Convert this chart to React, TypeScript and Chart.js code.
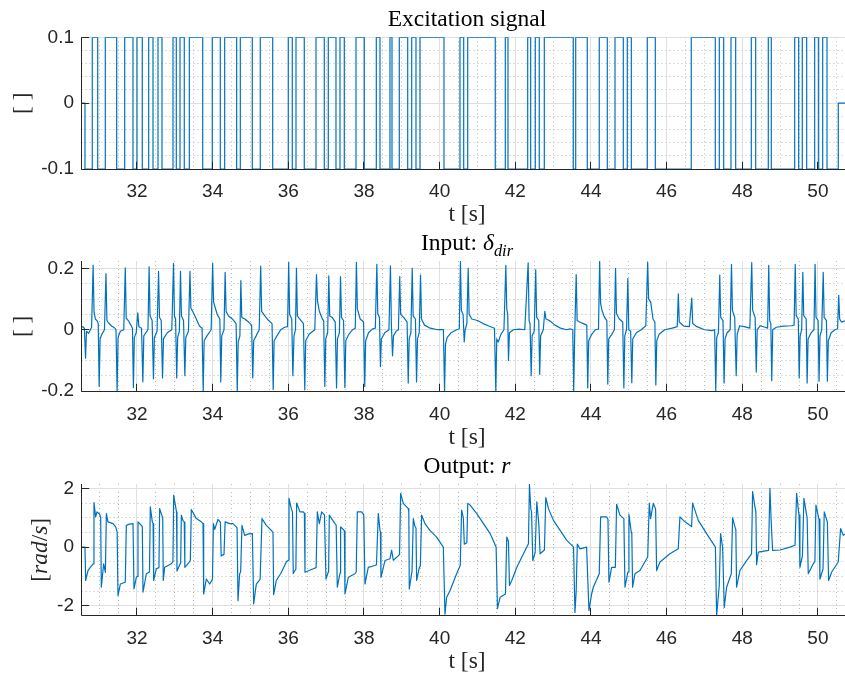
import { useEffect, useRef } from "react";
import { Chart, registerables } from "chart.js";

Chart.register(...registerables);

const PAGE_W = 845;
const PAGE_H = 673;
const CANVAS_W = 860;
const PLOT_LEFT = 81.5;
const PLOT_RIGHT = 852.5;

const LINE_BLUE = "#0072BD";
const AXIS_COLOR = "#262626";
const MAJOR_GRID = "#dfdfdf";
const MINOR_GRID = "#b9b9b9";
const SERIF = '"Liberation Serif", "DejaVu Serif", serif';
const SANS = '"Liberation Sans", Arial, sans-serif';

// shared time axis
const TIME_MIN = 30.533;
const TIME_MAX = 50.914;
const timeTicks = [32, 34, 36, 38, 40, 42, 44, 46, 48, 50];
const timeTickLabels = ["32", "34", "36", "38", "40", "42", "44", "46", "48", "50"];
const TIME_MINOR_STEP = 0.5;

// excitation: switching instants and the level held from each instant on
const switchTimes = [
  30.533, 30.625,
  30.818, 30.961, 31.162, 31.463, 31.675, 31.894, 32.0, 32.14,
  32.309, 32.423, 32.555, 32.661, 32.952, 33.039, 33.137, 33.25,
  33.383, 33.737, 33.99, 34.202, 34.318, 34.635, 34.731, 35.048,
  35.259, 35.587, 35.999, 36.105, 36.203, 36.422, 36.732, 36.951,
  37.057, 37.26, 37.366, 37.48, 37.789, 38.008, 38.326, 38.423,
  38.688, 38.741, 38.934, 39.156, 39.262, 39.375, 39.481, 40.115,
  40.538, 40.636, 40.742, 41.471, 41.736, 41.807, 42.328, 42.407,
  42.529, 42.634, 42.767, 43.533, 43.597, 43.903, 44.22, 44.432,
  44.636, 44.855, 44.961, 45.067, 45.489, 45.701, 46.652, 47.287,
  47.393, 47.509, 47.702, 47.826, 48.239, 48.355, 48.688, 48.767,
  49.386, 49.491, 49.587, 49.703, 49.914, 50.02, 50.126, 50.24,
  50.538, 50.914,
];
const switchLevels = [
  0, -0.1,
  0.1, -0.1, 0.1, -0.1, 0.1, -0.1, 0.1, -0.1,
  0.1, -0.1, 0.1, -0.1, 0.1, -0.1, 0.1, -0.1,
  0.1, -0.1, 0.1, -0.1, 0.1, -0.1, 0.1, -0.1,
  0.1, -0.1, 0.1, -0.1, 0.1, -0.1, 0.1, -0.1,
  0.1, -0.1, 0.1, -0.1, 0.1, -0.1, 0.1, -0.1,
  0.1, -0.1, 0.1, -0.1, 0.1, -0.1, 0.1, -0.1,
  0.1, -0.1, 0.1, -0.1, 0.1, -0.1, 0.1, -0.1,
  0.1, -0.1, 0.1, -0.1, 0.1, -0.1, 0.1, -0.1,
  0.1, -0.1, 0.1, -0.1, 0.1, -0.1, 0.1, -0.1,
  0.1, -0.1, 0.1, -0.1, 0.1, -0.1, 0.1, -0.1,
  0.1, -0.1, 0.1, -0.1, 0.1, -0.1, 0.1, -0.1,
  0, 0,
];
const excitationTicks = [-0.1, 0, 0.1];
const excitationTickLabels = ["-0.1", "0", "0.1"];

// input δ_dir samples [t, value]
const inputSamples: [number, number][] = [
  [30.533, 0.008], [30.57, 0.01], [30.61, 0.004], [30.64, -0.093], [30.665, -0.005], [30.72, -0.012],
  [30.8, 0.008], [30.84, 0.211], [30.865, 0.057], [30.9, 0.035], [30.95, 0.028], [30.975, 0.02],
  [31.0, -0.185], [31.025, -0.03], [31.07, -0.015], [31.14, 0.0], [31.18, 0.183], [31.205, 0.03],
  [31.25, 0.022], [31.33, 0.012], [31.42, 0.005], [31.445, 0.0], [31.475, -0.2], [31.5, -0.025],
  [31.56, -0.005], [31.65, 0.0], [31.69, 0.202], [31.715, 0.038], [31.77, 0.03], [31.86, 0.01],
  [31.88, 0.005], [31.905, -0.188], [31.93, -0.025], [31.98, -0.01], [32.02, 0.055], [32.05, 0.01],
  [32.12, 0.005], [32.155, -0.17], [32.18, -0.02], [32.26, -0.005], [32.29, 0.0], [32.32, 0.205],
  [32.345, 0.045], [32.4, 0.03], [32.435, -0.16], [32.46, -0.025], [32.53, -0.005], [32.57, 0.19],
  [32.595, 0.04], [32.64, 0.03], [32.675, -0.157], [32.7, -0.03], [32.8, -0.01], [32.92, 0.0],
  [32.965, 0.216], [32.99, 0.045], [33.02, 0.035], [33.05, -0.157], [33.075, -0.025], [33.12, -0.005],
  [33.15, 0.19], [33.175, 0.045], [33.23, 0.03], [33.265, -0.15], [33.29, -0.025], [33.36, -0.005],
  [33.4, 0.19], [33.425, 0.07], [33.47, 0.06], [33.55, 0.04], [33.65, 0.012], [33.72, 0.005],
  [33.75, -0.2], [33.775, -0.036], [33.85, -0.02], [33.96, 0.0], [34.0, 0.216], [34.025, 0.09],
  [34.06, 0.075], [34.12, 0.05], [34.19, 0.035], [34.215, -0.17], [34.24, -0.02], [34.3, 0.0],
  [34.33, 0.187], [34.355, 0.06], [34.42, 0.045], [34.52, 0.035], [34.62, 0.02], [34.65, -0.2],
  [34.675, -0.04], [34.72, -0.02], [34.745, 0.16], [34.77, 0.04], [34.85, 0.035], [34.95, 0.025],
  [35.03, 0.015], [35.06, -0.157], [35.085, -0.035], [35.15, -0.02], [35.23, 0.0], [35.27, 0.207],
  [35.295, 0.06], [35.38, 0.045], [35.48, 0.03], [35.57, 0.02], [35.6, -0.195], [35.625, -0.036],
  [35.7, -0.02], [35.8, 0.0], [35.9, 0.008], [35.98, 0.01], [36.01, 0.22], [36.035, 0.05],
  [36.09, 0.035], [36.12, -0.15], [36.15, -0.02], [36.19, 0.0], [36.215, 0.2], [36.24, 0.045],
  [36.3, 0.035], [36.4, 0.02], [36.435, -0.196], [36.46, -0.036], [36.55, -0.015], [36.7, 0.0],
  [36.745, 0.18], [36.77, 0.095], [36.82, 0.06], [36.9, 0.035], [36.935, 0.03], [36.965, -0.185],
  [36.99, -0.03], [37.04, -0.01], [37.07, 0.176], [37.095, 0.045], [37.16, 0.04], [37.24, 0.025],
  [37.275, -0.19], [37.3, -0.03], [37.35, -0.01], [37.38, 0.173], [37.405, 0.04], [37.46, 0.03],
  [37.495, -0.188], [37.52, -0.035], [37.6, -0.015], [37.7, 0.0], [37.77, 0.005], [37.8, 0.22],
  [37.825, 0.068], [37.9, 0.035], [37.99, 0.025], [38.02, -0.185], [38.045, -0.036], [38.12, -0.01],
  [38.22, 0.002], [38.3, 0.005], [38.34, 0.213], [38.365, 0.052], [38.41, 0.04], [38.435, -0.12],
  [38.46, -0.03], [38.55, -0.01], [38.66, 0.0], [38.7, 0.208], [38.725, 0.015], [38.755, -0.085],
  [38.78, -0.02], [38.85, -0.005], [38.91, 0.0], [38.945, 0.173], [38.97, 0.05], [39.05, 0.04],
  [39.14, 0.025], [39.17, -0.174], [39.195, -0.03], [39.24, -0.01], [39.275, 0.2], [39.3, 0.045],
  [39.36, 0.035], [39.39, -0.17], [39.415, -0.03], [39.46, -0.01], [39.495, 0.178], [39.52, 0.035],
  [39.6, 0.015], [39.75, 0.005], [39.95, 0.0], [40.1, 0.0], [40.13, -0.2], [40.155, -0.048],
  [40.2, -0.025], [40.3, -0.01], [40.45, 0.0], [40.52, 0.003], [40.55, 0.222], [40.575, 0.063],
  [40.62, 0.05], [40.65, -0.04], [40.675, 0.0], [40.72, 0.02], [40.755, 0.2], [40.78, 0.05],
  [40.85, 0.035], [41.0, 0.03], [41.15, 0.02], [41.3, 0.012], [41.45, 0.005], [41.485, -0.2],
  [41.51, -0.03], [41.55, -0.04], [41.62, -0.015], [41.7, 0.0], [41.75, 0.21], [41.775, 0.068],
  [41.8, 0.05], [41.82, -0.1], [41.845, -0.01], [41.95, 0.0], [42.1, 0.002], [42.25, 0.0],
  [42.34, 0.218], [42.365, 0.03], [42.39, 0.02], [42.42, -0.15], [42.445, -0.02], [42.5, -0.005],
  [42.54, 0.195], [42.565, 0.04], [42.62, 0.03], [42.645, -0.146], [42.67, -0.02], [42.74, 0.0],
  [42.78, 0.06], [42.81, 0.035], [42.9, 0.03], [43.05, 0.015], [43.2, 0.005], [43.35, 0.0],
  [43.45, 0.003], [43.52, 0.0], [43.545, -0.2], [43.57, -0.02], [43.61, 0.18], [43.635, 0.03],
  [43.7, 0.025], [43.8, 0.02], [43.89, 0.015], [43.915, -0.19], [43.94, -0.036], [44.02, -0.015],
  [44.12, 0.0], [44.2, 0.002], [44.23, 0.224], [44.255, 0.085], [44.3, 0.06], [44.36, 0.04],
  [44.42, 0.03], [44.445, -0.177], [44.47, -0.03], [44.55, -0.015], [44.62, 0.0], [44.65, 0.2],
  [44.675, 0.052], [44.75, 0.035], [44.84, 0.025], [44.87, -0.19], [44.895, -0.02], [44.94, 0.0],
  [44.975, 0.167], [45.0, 0.0], [45.05, -0.005], [45.08, -0.173], [45.105, -0.03], [45.2, -0.01],
  [45.33, 0.0], [45.45, 0.013], [45.5, 0.22], [45.525, 0.1], [45.58, 0.09], [45.64, 0.035],
  [45.69, 0.025], [45.715, -0.18], [45.74, -0.036], [45.8, -0.015], [45.95, 0.0], [46.15, 0.005],
  [46.28, 0.01], [46.31, 0.117], [46.335, 0.025], [46.45, 0.012], [46.6, 0.01], [46.665, 0.103],
  [46.69, 0.02], [46.8, 0.01], [47.0, 0.0], [47.2, -0.003], [47.27, 0.0], [47.3, -0.2],
  [47.325, -0.025], [47.37, -0.01], [47.405, 0.178], [47.43, 0.04], [47.49, 0.03], [47.52, -0.174],
  [47.545, -0.03], [47.6, -0.01], [47.68, 0.0], [47.715, 0.213], [47.74, 0.063], [47.8, 0.04],
  [47.84, -0.15], [47.865, -0.015], [47.93, 0.013], [48.05, 0.01], [48.2, 0.005], [48.25, 0.219],
  [48.275, 0.063], [48.34, 0.04], [48.37, -0.138], [48.395, 0.0], [48.48, 0.013], [48.6, 0.008],
  [48.67, 0.005], [48.7, 0.21], [48.725, 0.03], [48.755, 0.02], [48.78, -0.166], [48.805, 0.0],
  [48.9, 0.008], [49.1, 0.012], [49.3, 0.013], [49.37, 0.015], [49.4, 0.213], [49.425, 0.046],
  [49.48, 0.035], [49.505, -0.157], [49.53, -0.02], [49.57, 0.0], [49.6, 0.187], [49.625, 0.046],
  [49.69, 0.035], [49.715, -0.174], [49.74, -0.03], [49.82, -0.01], [49.895, 0.0], [49.925, 0.213],
  [49.95, 0.04], [50.005, 0.03], [50.03, -0.168], [50.055, -0.02], [50.1, 0.0], [50.14, 0.187],
  [50.165, 0.04], [50.225, 0.03], [50.25, -0.168], [50.275, -0.036], [50.35, -0.01], [50.45, 0.0],
  [50.52, 0.003], [50.55, 0.112], [50.575, 0.035], [50.62, 0.025], [50.75, 0.03],
];
const inputTicks = [-0.2, 0, 0.2];
const inputTickLabels = ["-0.2", "0", "0.2"];

// output r samples [t, rad/s]
const outputSamples: [number, number][] = [
  [30.533, 0.0], [30.625, 0.0], [30.643, -1.14], [30.705, -0.8], [30.76, -0.7], [30.84, -0.57],
  [30.863, 1.52], [30.907, 1.03], [30.943, 1.2], [31.013, 1.12], [31.04, 1.0], [31.057, -1.37],
  [31.119, -0.57], [31.165, -0.86], [31.19, 1.14], [31.233, 0.86], [31.366, 0.8], [31.436, 0.69],
  [31.475, 0.52], [31.498, -1.66], [31.56, -1.26], [31.69, -1.2], [31.718, 0.74], [31.8, 0.78],
  [31.894, 0.8], [31.921, -1.43], [31.982, -1.03], [32.005, -1.0], [32.026, 0.86], [32.115, 0.74],
  [32.14, 0.7], [32.159, -1.54], [32.247, -0.91], [32.33, -0.85], [32.352, 1.37], [32.405, 0.86],
  [32.425, 0.8], [32.44, -1.14], [32.511, -0.74], [32.58, -0.7], [32.599, 1.31], [32.67, 1.03],
  [32.68, 1.0], [32.695, -1.14], [32.731, -0.69], [32.907, -0.57], [32.95, -0.5], [32.97, 1.77],
  [33.022, 1.37], [33.045, 1.2], [33.057, -0.82], [33.128, -0.6], [33.155, -0.55], [33.172, 1.09],
  [33.216, 0.9], [33.25, 0.85], [33.265, -0.69], [33.392, -0.5], [33.41, -0.45], [33.436, 1.28],
  [33.568, 0.97], [33.7, 0.86], [33.745, 0.8], [33.762, -1.6], [33.833, -1.09], [33.921, -1.26],
  [33.995, -1.1], [34.02, 0.8], [34.053, 0.6], [34.141, 0.94], [34.205, 0.85], [34.225, -0.3],
  [34.3, -0.25], [34.33, 0.86], [34.45, 0.8], [34.537, 0.8], [34.626, 0.69], [34.645, 0.65],
  [34.67, -1.83], [34.714, -0.91], [34.74, -0.85], [34.775, 0.74], [34.846, 0.4], [34.95, 0.45],
  [35.05, 0.46], [35.084, -1.94], [35.154, -1.26], [35.255, -1.1], [35.304, 0.97], [35.419, 0.74],
  [35.551, 0.57], [35.595, 0.5], [35.612, -1.62], [35.683, -1.14], [35.8, -0.9], [35.947, -0.51],
  [35.998, -0.45], [36.018, 1.66], [36.079, 1.31], [36.11, 1.2], [36.13, -0.9], [36.176, -0.8],
  [36.2, -0.75], [36.22, 1.5], [36.308, 1.2], [36.396, 1.2], [36.425, 1.15], [36.441, -0.86],
  [36.661, -0.74], [36.735, -0.7], [36.767, 1.2], [36.819, 0.8], [36.881, 1.2], [36.925, 1.14],
  [36.955, 1.1], [36.996, -1.09], [37.057, -0.85], [37.065, -0.8], [37.084, 1.09], [37.233, 0.8],
  [37.265, 0.75], [37.295, -1.37], [37.366, -0.9], [37.37, -0.88], [37.383, 0.69], [37.454, 0.6],
  [37.482, 0.55], [37.498, -1.6], [37.586, -1.03], [37.762, -0.91], [37.795, -0.85], [37.824, 1.2],
  [37.938, 1.2], [37.995, 1.1], [38.026, -1.26], [38.114, -0.69], [38.291, -0.63], [38.33, -0.6],
  [38.379, 1.14], [38.423, 0.57], [38.435, 0.5], [38.449, -1.03], [38.555, -0.46], [38.687, -0.4],
  [38.731, -0.1], [38.775, -0.45], [38.907, -0.3], [38.94, -0.25], [38.969, 1.83], [39.04, 1.49],
  [39.172, 1.31], [39.185, 1.2], [39.198, -1.43], [39.26, -0.9], [39.27, -0.85], [39.304, 0.97],
  [39.348, 0.7], [39.375, 0.65], [39.392, -1.14], [39.463, -0.7], [39.49, -0.65], [39.524, 1.09],
  [39.612, 0.8], [39.744, 0.57], [39.921, 0.34], [40.097, 0.0], [40.141, -2.29], [40.185, -1.71],
  [40.273, -1.49], [40.449, -0.91], [40.545, -0.63], [40.581, 1.26], [40.626, 1.0], [40.652, 0.1],
  [40.72, 0.15], [40.744, 1.49], [40.806, 1.43], [40.982, 1.14], [41.159, 0.8], [41.335, 0.46],
  [41.493, 0.0], [41.529, -2.1], [41.6, -1.71], [41.74, -1.6], [41.775, 0.34], [41.819, 0.2],
  [41.846, -1.31], [41.907, -1.14], [42.04, -0.69], [42.216, -0.23], [42.348, 0.11], [42.374, 2.14],
  [42.41, 1.3], [42.43, 1.2], [42.463, -0.46], [42.524, -0.2], [42.568, 1.54], [42.621, 0.8],
  [42.656, -0.23], [42.77, -0.1], [42.806, 1.69], [42.877, 1.31], [43.009, 0.91], [43.185, 0.57],
  [43.361, 0.23], [43.54, 0.0], [43.577, -2.23], [43.61, -1.5], [43.639, 0.1], [43.709, -0.06],
  [43.885, 0.0], [43.947, -2.17], [44.018, -1.6], [44.062, -1.37], [44.22, -0.91], [44.256, 1.03],
  [44.414, 1.03], [44.45, 0.95], [44.476, -1.2], [44.546, -0.69], [44.645, -0.69], [44.678, 1.46],
  [44.767, 1.09], [44.87, 0.97], [44.899, -1.37], [44.969, -0.9], [44.98, -0.85], [45.004, 1.12],
  [45.066, 0.5], [45.08, 0.45], [45.101, -1.37], [45.163, -0.91], [45.295, -0.8], [45.5, -0.34],
  [45.542, 1.5], [45.577, 0.97], [45.648, 1.49], [45.709, 1.3], [45.736, -0.8], [45.824, -0.51],
  [46.088, -0.23], [46.308, -0.06], [46.352, 1.03], [46.485, 0.86], [46.66, 0.7], [46.687, 1.5],
  [46.837, 0.91], [47.057, 0.46], [47.29, 0.0], [47.322, -2.34], [47.392, -1.3], [47.427, 0.46],
  [47.48, 0.0], [47.524, -2.06], [47.586, -1.37], [47.71, -0.91], [47.744, 1.0], [47.806, 0.69],
  [47.83, 0.6], [47.85, -1.37], [47.938, -0.8], [48.115, -0.46], [48.245, -0.23], [48.273, 1.89],
  [48.335, 1.37], [48.36, 1.2], [48.379, -0.6], [48.423, -0.17], [48.695, -0.11], [48.731, 2.0],
  [48.767, 0.8], [48.802, -0.11], [49.0, -0.1], [49.26, 0.0], [49.395, 0.06], [49.436, 1.83],
  [49.489, 1.2], [49.5, 1.1], [49.524, -0.69], [49.59, -0.3], [49.63, 1.66], [49.7, 1.1],
  [49.715, 1.0], [49.744, -0.91], [49.877, -0.57], [49.92, -0.5], [49.947, 1.43], [50.018, 1.0],
  [50.03, 0.95], [50.053, -1.09], [50.123, -0.8], [50.135, -0.75], [50.167, 1.2], [50.238, 0.9],
  [50.25, 0.85], [50.282, -1.14], [50.361, -0.86], [50.537, -0.51], [50.599, 0.63], [50.67, 0.4],
  [50.75, 0.46],
];
const outputTicks = [-2, 0, 2];
const outputTickLabels = ["-2", "0", "2"];

type Seg = { text: string; italic?: boolean; sub?: boolean };

interface PanelSpec {
  key: string;
  plotTop: number;
  plotBottom: number;
  yMin: number;
  yMax: number;
  yTicks: number[];
  yTickLabels: string[];
  yMinorStep: number;
  title: Seg[];
  yLabel: Seg[];
  yLabelX: number;
  points: { x: number; y: number }[];
  stepped: boolean;
}

const xLabel: Seg[] = [{ text: "t [s]" }];
const TEXT_SIZE = 23.5;

const panels: PanelSpec[] = [
  {
    key: "excitation",
    plotTop: 37.3,
    plotBottom: 169,
    yMin: -0.1,
    yMax: 0.1,
    yTicks: excitationTicks,
    yTickLabels: excitationTickLabels,
    yMinorStep: 0.02,
    title: [{ text: "Excitation signal" }],
    yLabel: [{ text: "[ ]" }],
    yLabelX: 29,
    points: switchTimes.map((t, i) => ({ x: t, y: switchLevels[i] })),
    stepped: true,
  },
  {
    key: "input",
    plotTop: 261,
    plotBottom: 391.7,
    yMin: -0.202,
    yMax: 0.224,
    yTicks: inputTicks,
    yTickLabels: inputTickLabels,
    yMinorStep: 0.05,
    title: [{ text: "Input: " }, { text: "δ", italic: true }, { text: "dir", italic: true, sub: true }],
    yLabel: [{ text: "[ ]" }],
    yLabelX: 29,
    points: inputSamples.map(([t, v]) => ({ x: t, y: v })),
    stepped: false,
  },
  {
    key: "output",
    plotTop: 484,
    plotBottom: 615.7,
    yMin: -2.34,
    yMax: 2.15,
    yTicks: outputTicks,
    yTickLabels: outputTickLabels,
    yMinorStep: 0.5,
    title: [{ text: "Output: " }, { text: "r", italic: true }],
    yLabel: [
      { text: "[" },
      { text: "rad", italic: true },
      { text: "/" },
      { text: "s", italic: true },
      { text: "]" },
    ],
    yLabelX: 47,
    points: outputSamples.map(([t, v]) => ({ x: t, y: v })),
    stepped: false,
  },
];

function segFont(seg: Seg, size: number) {
  const s = seg.sub ? size * 0.7 : size;
  return `${seg.italic ? "italic " : ""}${s}px ${SERIF}`;
}

// draws mixed upright/italic/subscript text centred on (cx, baseline cy)
function drawRich(
  ctx: CanvasRenderingContext2D,
  segs: Seg[],
  cx: number,
  cy: number,
  size: number,
  color: string,
  rotate = 0
) {
  ctx.save();
  ctx.translate(cx, cy);
  if (rotate) ctx.rotate(rotate);
  const widths = segs.map((s) => {
    ctx.font = segFont(s, size);
    return ctx.measureText(s.text).width;
  });
  const total = widths.reduce((a, b) => a + b, 0);
  let x = -total / 2;
  ctx.fillStyle = color;
  ctx.textBaseline = "alphabetic";
  ctx.textAlign = "left";
  segs.forEach((s, i) => {
    ctx.font = segFont(s, size);
    ctx.fillText(s.text, x, s.sub ? size * 0.24 : 0);
    x += widths[i];
  });
  ctx.restore();
}

const crisp = (p: number) => Math.floor(p) + 0.5;

function Panel({ spec }: { spec: PanelSpec }) {
  const ref = useRef<HTMLCanvasElement>(null);

  useEffect(() => {
    const canvas = ref.current;
    if (!canvas) return;

    const decor = {
      id: "axesDecor",
      beforeDatasetsDraw(chart: Chart) {
        const { ctx, chartArea: a } = chart;
        const xs = chart.scales.x;
        const ys = chart.scales.y;
        ctx.save();
        ctx.lineWidth = 1;
        // minor grid (dotted)
        ctx.strokeStyle = MINOR_GRID;
        ctx.setLineDash([1, 3]);
        ctx.beginPath();
        for (let k = Math.ceil(xs.min / TIME_MINOR_STEP); k * TIME_MINOR_STEP <= xs.max; k++) {
          const v = k * TIME_MINOR_STEP;
          if (timeTicks.some((t) => Math.abs(t - v) < 1e-6)) continue;
          const px = crisp(xs.getPixelForValue(v));
          ctx.moveTo(px, a.top);
          ctx.lineTo(px, a.bottom);
        }
        const st = spec.yMinorStep;
        for (let k = Math.ceil(ys.min / st - 1e-9); k * st <= ys.max + 1e-9; k++) {
          const v = k * st;
          if (spec.yTicks.some((t) => Math.abs(t - v) < 1e-6)) continue;
          const py = crisp(ys.getPixelForValue(v));
          ctx.moveTo(a.left, py);
          ctx.lineTo(a.right, py);
        }
        ctx.stroke();
        // major grid
        ctx.setLineDash([]);
        ctx.strokeStyle = MAJOR_GRID;
        ctx.beginPath();
        timeTicks.forEach((v) => {
          const px = crisp(xs.getPixelForValue(v));
          ctx.moveTo(px, a.top);
          ctx.lineTo(px, a.bottom);
        });
        spec.yTicks.forEach((v) => {
          const py = crisp(ys.getPixelForValue(v));
          ctx.moveTo(a.left, py);
          ctx.lineTo(a.right, py);
        });
        ctx.stroke();
        ctx.restore();
      },
      afterDatasetsDraw(chart: Chart) {
        const { ctx, chartArea: a } = chart;
        const xs = chart.scales.x;
        const ys = chart.scales.y;
        const left = crisp(a.left);
        const bottom = crisp(a.bottom);
        ctx.save();
        ctx.strokeStyle = AXIS_COLOR;
        ctx.lineWidth = 1;
        ctx.beginPath();
        ctx.moveTo(left, a.top);
        ctx.lineTo(left, bottom);
        ctx.lineTo(a.right, bottom);
        // inward tick marks
        timeTicks.forEach((v) => {
          const px = crisp(xs.getPixelForValue(v));
          ctx.moveTo(px, bottom);
          ctx.lineTo(px, bottom - 7.7);
        });
        spec.yTicks.forEach((v) => {
          const py = crisp(ys.getPixelForValue(v));
          ctx.moveTo(left, py);
          ctx.lineTo(left + 7.7, py);
        });
        ctx.stroke();
        ctx.restore();
      },
      afterDraw(chart: Chart) {
        const { ctx, chartArea: a } = chart;
        const cx = (a.left + a.right) / 2;
        drawRich(ctx, spec.title, cx, a.top - 11, TEXT_SIZE, "#000000");
        drawRich(ctx, xLabel, cx, a.bottom + 52, TEXT_SIZE, AXIS_COLOR);
        drawRich(ctx, spec.yLabel, spec.yLabelX, (a.top + a.bottom) / 2, TEXT_SIZE, AXIS_COLOR, -Math.PI / 2);
      },
    };

    const chart = new Chart(canvas, {
      type: "line",
      data: {
        datasets: [
          {
            data: spec.points,
            borderColor: LINE_BLUE,
            borderWidth: 1.2,
            borderJoinStyle: "round",
            pointRadius: 0,
            pointHoverRadius: 0,
            fill: false,
            tension: 0,
            stepped: spec.stepped,
          },
        ],
      },
      options: {
        animation: false,
        responsive: false,
        devicePixelRatio: 1,
        events: [],
        layout: {
          padding: { top: spec.plotTop, left: 0, right: CANVAS_W - PLOT_RIGHT, bottom: 0 },
        },
        plugins: {
          legend: { display: false },
          tooltip: { enabled: false },
          title: { display: false },
        },
        scales: {
          x: {
            type: "linear",
            position: "bottom",
            min: TIME_MIN,
            max: TIME_MAX,
            grid: { display: false, drawTicks: false },
            border: { display: false },
            afterBuildTicks: (s: any) => {
              s.ticks = timeTicks.map((v) => ({ value: v }));
            },
            afterFit: (s: any) => {
              s.height = PAGE_H - spec.plotBottom;
            },
            ticks: {
              autoSkip: false,
              maxRotation: 0,
              minRotation: 0,
              padding: 11.5,
              color: AXIS_COLOR,
              font: { family: SANS, size: 19 },
              callback: (v: any) => timeTickLabels[timeTicks.indexOf(Number(v))] ?? "",
            },
          },
          y: {
            type: "linear",
            position: "left",
            min: spec.yMin,
            max: spec.yMax,
            grid: { display: false, drawTicks: false },
            border: { display: false },
            afterBuildTicks: (s: any) => {
              s.ticks = spec.yTicks.map((v) => ({ value: v }));
            },
            afterFit: (s: any) => {
              s.width = PLOT_LEFT;
            },
            ticks: {
              autoSkip: false,
              padding: 7.5,
              color: AXIS_COLOR,
              font: { family: SANS, size: 19 },
              callback: (v: any) => spec.yTickLabels[spec.yTicks.indexOf(Number(v))] ?? "",
            },
          },
        },
      },
      plugins: [decor],
    });

    return () => chart.destroy();
  }, [spec]);

  return (
    <canvas
      ref={ref}
      width={CANVAS_W}
      height={PAGE_H}
      style={{ position: "absolute", left: 0, top: 0, width: CANVAS_W, height: PAGE_H }}
    />
  );
}

export default function App() {
  return (
    <div
      style={{
        position: "absolute",
        left: 0,
        top: 0,
        width: PAGE_W,
        height: PAGE_H,
        overflow: "hidden",
        background: "#ffffff",
      }}
    >
      {panels.map((p) => (
        <Panel key={p.key} spec={p} />
      ))}
    </div>
  );
}
